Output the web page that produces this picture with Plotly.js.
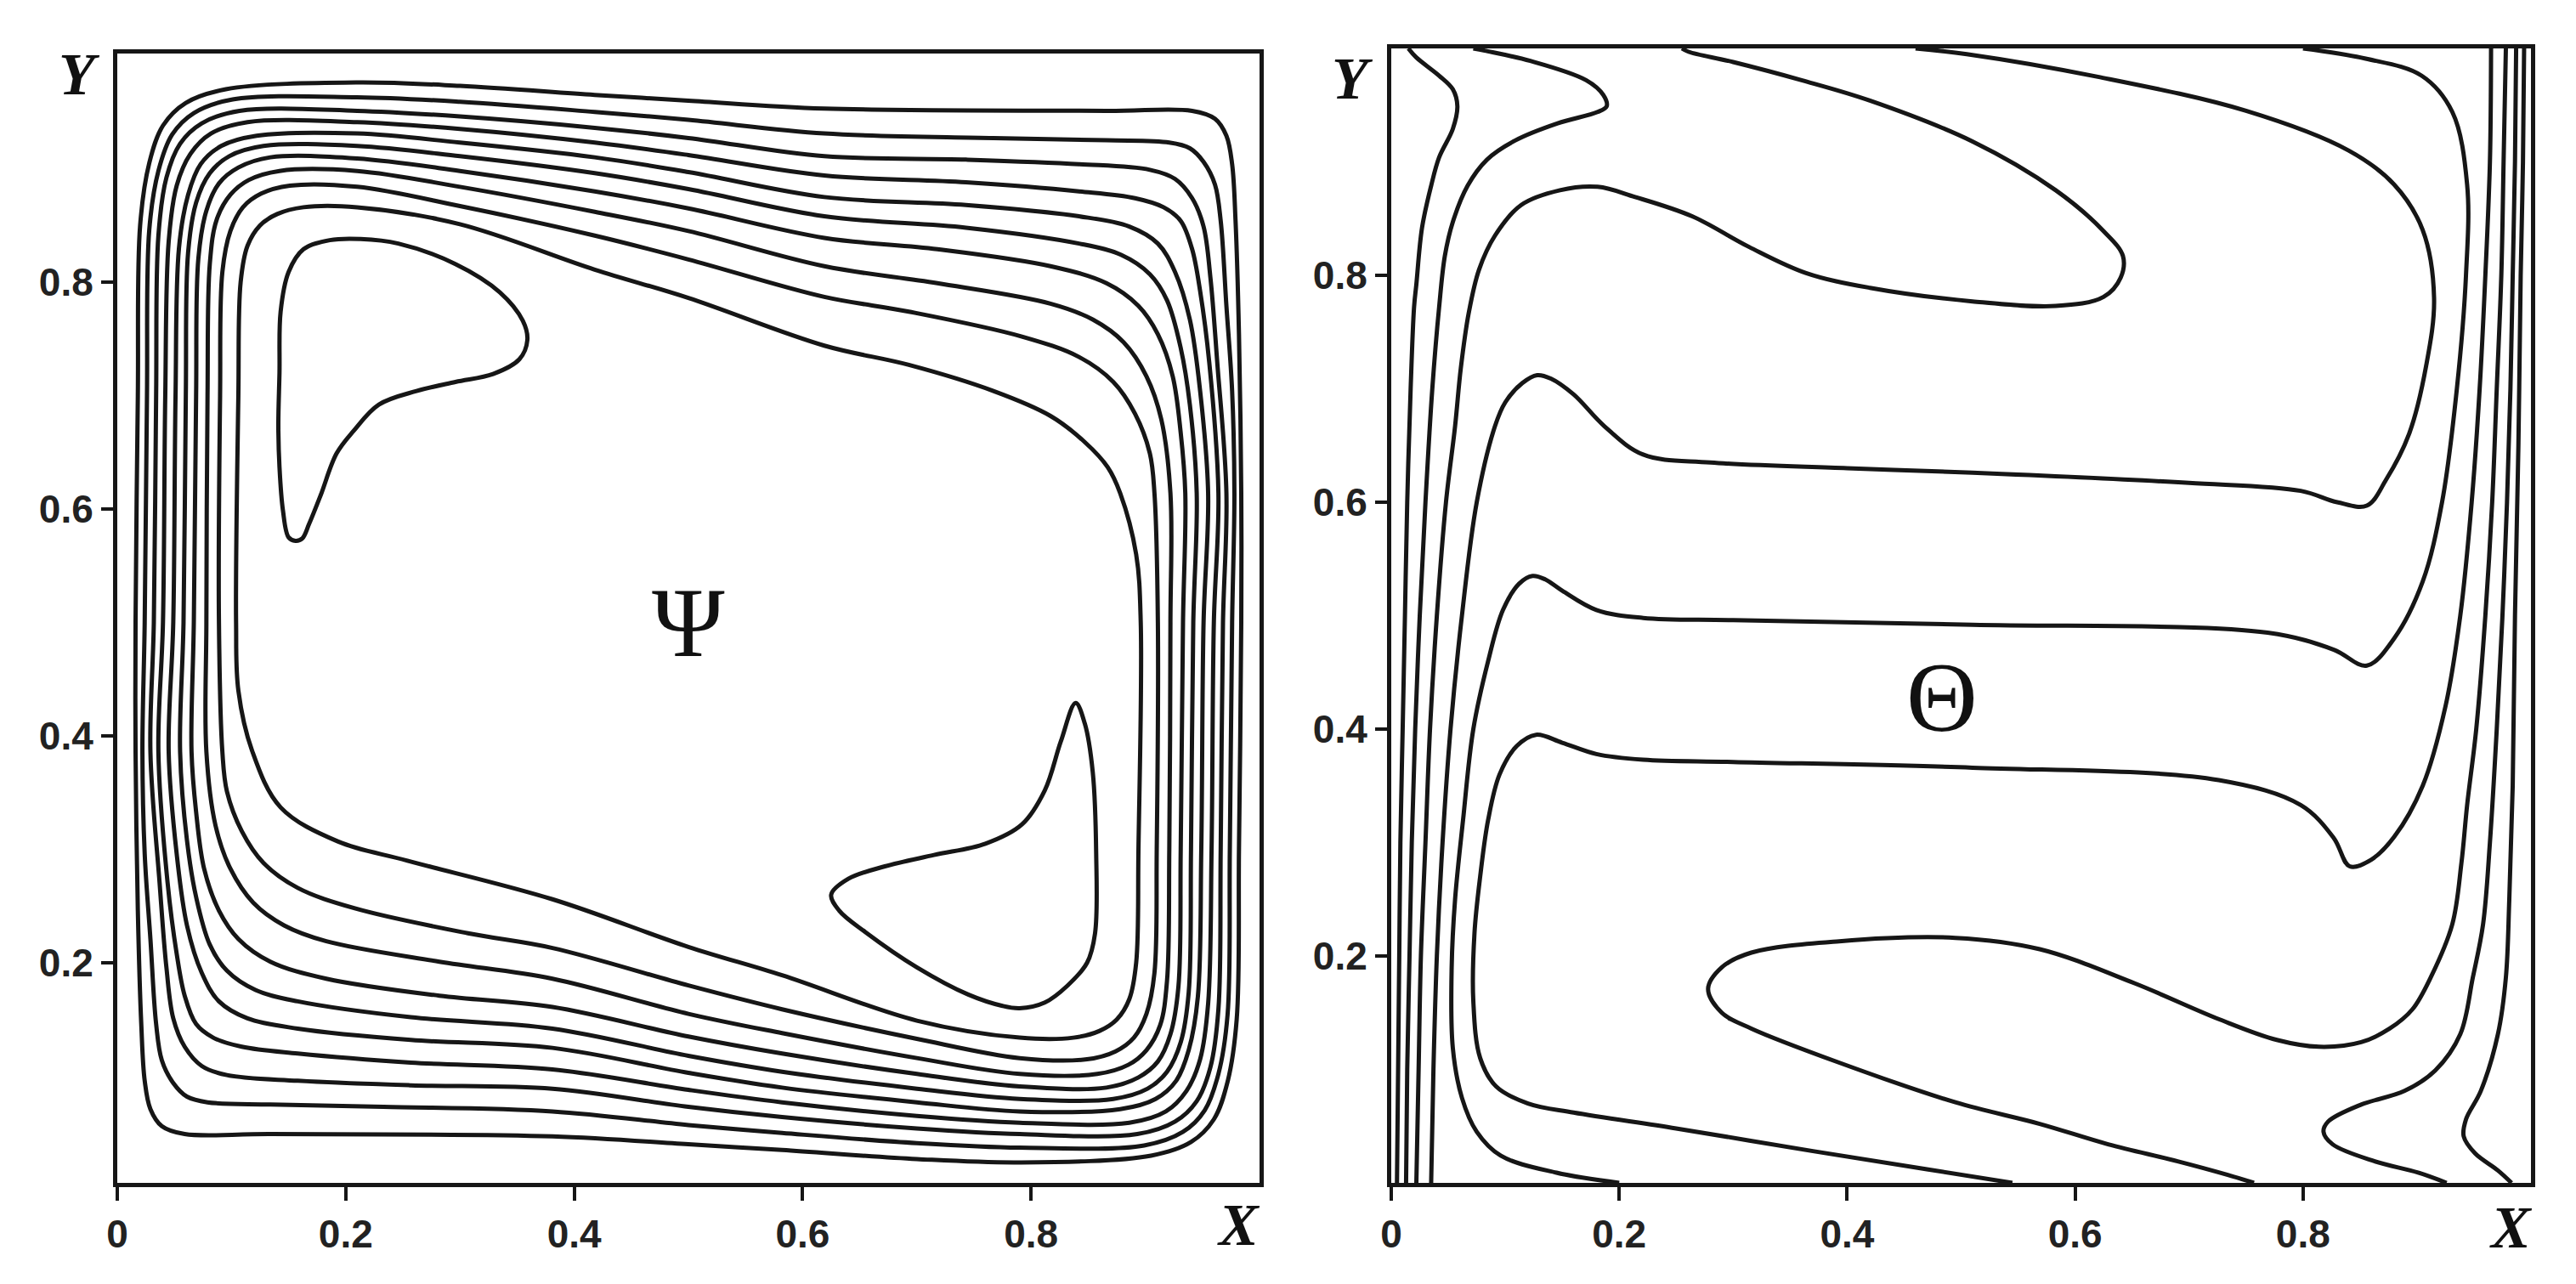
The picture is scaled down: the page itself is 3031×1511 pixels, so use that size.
<!DOCTYPE html>
<html>
<head>
<meta charset="utf-8">
<script src="https://cdn.plot.ly/plotly-3.0.1.min.js"></script>
<style>
html,body{margin:0;padding:0;background:#fff;}
#chart{width:3031px;height:1511px;}
</style>
</head>
<body>
<div id="chart"></div>
<script>
// ---------- Left panel: streamlines (Psi) ----------
const psiLoop1X = [0.016,0.018,0.020,0.028,0.040,0.060,0.095,0.21,0.30,0.418,0.50,0.619,0.866,0.941,0.961,0.971,0.976,0.979,0.982,0.984,0.984,0.982,0.980,0.972,0.960,0.940,0.905,0.79,0.70,0.582,0.50,0.381,0.134,0.059,0.039,0.029,0.024,0.021,0.018,0.016,0.016];
const psiLoop1Y = [0.50,0.70,0.850,0.905,0.938,0.958,0.970,0.976,0.973,0.965,0.960,0.953,0.951,0.951,0.944,0.929,0.904,0.854,0.754,0.614,0.50,0.30,0.15,0.095,0.062,0.042,0.030,0.024,0.027,0.035,0.040,0.047,0.049,0.049,0.056,0.071,0.096,0.146,0.246,0.386,0.50];

const psiLoop2X = [0.024,0.026,0.028,0.036,0.048,0.067,0.101,0.21,0.30,0.418,0.50,0.619,0.767,0.866,0.921,0.939,0.951,0.961,0.966,0.971,0.976,0.978,0.976,0.974,0.972,0.964,0.952,0.933,0.899,0.79,0.70,0.582,0.50,0.381,0.233,0.134,0.079,0.061,0.049,0.039,0.034,0.029,0.024,0.022,0.024];
const psiLoop2Y = [0.50,0.70,0.846,0.898,0.930,0.949,0.961,0.963,0.959,0.950,0.943,0.931,0.927,0.925,0.923,0.918,0.906,0.886,0.854,0.779,0.704,0.614,0.50,0.30,0.154,0.102,0.070,0.051,0.039,0.037,0.041,0.050,0.057,0.069,0.073,0.075,0.077,0.082,0.094,0.114,0.146,0.221,0.296,0.386,0.50];

const psiLoop3X = [0.032,0.034,0.036,0.043,0.055,0.074,0.107,0.21,0.30,0.418,0.50,0.619,0.743,0.842,0.904,0.926,0.941,0.951,0.957,0.963,0.971,0.968,0.966,0.964,0.957,0.945,0.926,0.893,0.79,0.70,0.582,0.50,0.381,0.257,0.158,0.096,0.074,0.059,0.049,0.043,0.037,0.029,0.032];
const psiLoop3Y = [0.50,0.70,0.841,0.892,0.922,0.940,0.951,0.951,0.946,0.936,0.927,0.911,0.908,0.904,0.899,0.891,0.874,0.849,0.804,0.729,0.614,0.50,0.30,0.159,0.108,0.078,0.060,0.049,0.049,0.054,0.064,0.073,0.089,0.092,0.096,0.101,0.109,0.126,0.151,0.196,0.271,0.386,0.50];

const psiLoop4X = [0.040,0.042,0.045,0.052,0.064,0.082,0.114,0.21,0.30,0.418,0.50,0.619,0.743,0.842,0.891,0.916,0.931,0.941,0.948,0.956,0.964,0.960,0.958,0.955,0.948,0.936,0.918,0.886,0.79,0.70,0.582,0.50,0.381,0.257,0.158,0.109,0.084,0.069,0.059,0.052,0.044,0.036,0.040];
const psiLoop4Y = [0.50,0.70,0.836,0.885,0.913,0.931,0.941,0.941,0.935,0.923,0.912,0.894,0.888,0.880,0.874,0.866,0.854,0.829,0.792,0.729,0.614,0.50,0.30,0.164,0.115,0.087,0.069,0.059,0.059,0.065,0.077,0.088,0.106,0.112,0.120,0.126,0.134,0.146,0.171,0.208,0.271,0.386,0.50];

const psiLoop5X = [0.049,0.051,0.054,0.062,0.073,0.091,0.122,0.21,0.30,0.418,0.50,0.619,0.743,0.842,0.886,0.911,0.926,0.939,0.948,0.955,0.951,0.949,0.946,0.938,0.927,0.909,0.878,0.79,0.70,0.582,0.50,0.381,0.257,0.158,0.114,0.089,0.074,0.061,0.052,0.045,0.049];
const psiLoop5Y = [0.50,0.70,0.830,0.877,0.904,0.920,0.929,0.931,0.923,0.910,0.897,0.875,0.868,0.858,0.849,0.834,0.809,0.767,0.704,0.614,0.50,0.30,0.170,0.123,0.096,0.080,0.071,0.069,0.077,0.090,0.103,0.125,0.132,0.142,0.151,0.166,0.191,0.233,0.296,0.386,0.50];

const psiLoop6X = [0.058,0.060,0.062,0.069,0.081,0.098,0.128,0.21,0.30,0.418,0.50,0.619,0.743,0.842,0.879,0.904,0.919,0.931,0.939,0.945,0.942,0.940,0.938,0.931,0.919,0.902,0.872,0.79,0.70,0.582,0.50,0.381,0.257,0.158,0.121,0.096,0.081,0.069,0.061,0.055,0.058];
const psiLoop6Y = [0.50,0.70,0.826,0.870,0.896,0.911,0.920,0.920,0.911,0.896,0.882,0.858,0.848,0.834,0.824,0.807,0.784,0.742,0.692,0.614,0.50,0.30,0.174,0.130,0.104,0.089,0.080,0.080,0.089,0.104,0.118,0.142,0.152,0.166,0.176,0.193,0.216,0.258,0.308,0.386,0.50];

const psiLoop7X = [0.067,0.069,0.071,0.078,0.089,0.106,0.134,0.21,0.30,0.418,0.50,0.619,0.718,0.817,0.866,0.894,0.911,0.924,0.931,0.935,0.933,0.931,0.929,0.922,0.911,0.894,0.866,0.79,0.70,0.582,0.50,0.381,0.282,0.183,0.134,0.106,0.089,0.076,0.069,0.065,0.067];
const psiLoop7Y = [0.50,0.70,0.821,0.863,0.887,0.901,0.910,0.909,0.898,0.880,0.865,0.839,0.829,0.814,0.799,0.779,0.754,0.717,0.667,0.614,0.50,0.30,0.179,0.137,0.113,0.099,0.090,0.091,0.102,0.120,0.135,0.161,0.171,0.186,0.201,0.221,0.246,0.283,0.333,0.386,0.50];

const psiLoop8X = [0.078,0.079,0.081,0.087,0.099,0.115,0.142,0.21,0.30,0.418,0.50,0.619,0.718,0.817,0.854,0.881,0.901,0.914,0.922,0.922,0.921,0.919,0.913,0.901,0.885,0.858,0.79,0.70,0.582,0.50,0.381,0.282,0.183,0.146,0.119,0.099,0.086,0.078,0.078];
const psiLoop8Y = [0.50,0.70,0.816,0.855,0.877,0.890,0.898,0.898,0.884,0.862,0.845,0.814,0.799,0.781,0.767,0.747,0.717,0.679,0.614,0.50,0.30,0.184,0.145,0.123,0.110,0.102,0.102,0.116,0.138,0.155,0.186,0.201,0.219,0.233,0.253,0.283,0.321,0.386,0.50];

const psiLoop9X = [0.089,0.090,0.092,0.099,0.110,0.126,0.151,0.21,0.30,0.418,0.50,0.619,0.693,0.792,0.842,0.872,0.891,0.904,0.908,0.911,0.910,0.908,0.901,0.890,0.874,0.849,0.79,0.70,0.582,0.50,0.381,0.307,0.208,0.158,0.128,0.109,0.096,0.092,0.089];
const psiLoop9Y = [0.50,0.70,0.809,0.845,0.866,0.878,0.885,0.884,0.867,0.841,0.820,0.787,0.774,0.752,0.734,0.712,0.684,0.649,0.614,0.50,0.30,0.191,0.155,0.134,0.122,0.115,0.116,0.133,0.159,0.180,0.213,0.226,0.248,0.266,0.288,0.316,0.351,0.386,0.50];

const psiLoop10X = [0.104,0.106,0.108,0.114,0.125,0.140,0.163,0.21,0.30,0.418,0.50,0.619,0.693,0.767,0.817,0.847,0.867,0.878,0.892,0.896,0.894,0.892,0.886,0.875,0.860,0.837,0.79,0.70,0.582,0.50,0.381,0.254,0.193,0.143,0.118,0.106,0.104];
const psiLoop10Y = [0.50,0.70,0.800,0.832,0.850,0.860,0.866,0.866,0.851,0.811,0.786,0.744,0.727,0.704,0.682,0.659,0.637,0.614,0.56,0.50,0.30,0.200,0.168,0.150,0.140,0.134,0.134,0.149,0.189,0.214,0.256,0.290,0.307,0.337,0.387,0.44,0.50];

const psiVortexTLX = [0.141,0.142,0.143,0.150,0.163,0.186,0.213,0.246,0.296,0.335,0.355,0.359,0.352,0.329,0.296,0.262,0.229,0.207,0.192,0.178,0.168,0.162,0.156,0.150,0.145,0.142,0.141];
const psiVortexTLY = [0.674,0.720,0.774,0.809,0.829,0.837,0.838,0.834,0.816,0.791,0.766,0.749,0.732,0.719,0.712,0.704,0.692,0.669,0.649,0.612,0.587,0.574,0.572,0.575,0.599,0.637,0.674];

const psiVortexBRX = [0.839,0.826,0.812,0.792,0.760,0.715,0.672,0.640,0.625,0.632,0.655,0.700,0.745,0.775,0.790,0.812,0.832,0.849,0.856,0.857,0.854,0.847,0.839];
const psiVortexBRY = [0.429,0.395,0.352,0.322,0.305,0.295,0.285,0.274,0.260,0.246,0.227,0.196,0.172,0.162,0.160,0.165,0.180,0.200,0.226,0.296,0.368,0.411,0.429];

// ---------- Right panel: isotherms (Theta) ----------
const thetaAX = [0.015,0.022,0.042,0.054,0.058,0.054,0.042,0.035,0.027,0.022,0.020,0.017,0.014,0.012,0.010,0.008,0.007,0.006,0.005];
const thetaAY = [1.0,0.992,0.976,0.964,0.949,0.929,0.904,0.879,0.842,0.792,0.772,0.70,0.60,0.50,0.40,0.30,0.20,0.10,0.0];

const thetaBX = [0.072,0.082,0.122,0.171,0.186,0.189,0.181,0.146,0.109,0.084,0.067,0.054,0.047,0.042,0.036,0.030,0.025,0.021,0.018,0.016,0.014,0.013];
const thetaBY = [1.0,0.998,0.989,0.972,0.959,0.949,0.944,0.934,0.919,0.902,0.879,0.847,0.817,0.772,0.70,0.60,0.50,0.40,0.30,0.20,0.10,0.0];

const thetaCX = [0.255,0.261,0.30,0.36,0.42,0.51,0.583,0.625,0.642,0.640,0.625,0.583,0.51,0.42,0.364,0.314,0.264,0.214,0.181,0.148,0.114,0.091,0.077,0.068,0.061,0.056,0.048,0.040,0.034,0.030,0.026,0.024,0.022];
const thetaCY = [1.0,0.997,0.988,0.972,0.954,0.918,0.875,0.839,0.817,0.798,0.781,0.773,0.777,0.789,0.802,0.825,0.852,0.869,0.878,0.875,0.862,0.835,0.805,0.767,0.718,0.667,0.60,0.50,0.40,0.30,0.20,0.10,0.0];

const thetaDX = [0.46,0.505,0.62,0.75,0.84,0.88,0.905,0.915,0.908,0.893,0.873,0.856,0.83,0.798,0.70,0.51,0.40,0.28,0.221,0.187,0.16,0.14,0.128,0.115,0.10,0.091,0.075,0.062,0.052,0.045,0.040,0.037,0.035];
const thetaDY = [1.0,0.995,0.975,0.945,0.91,0.88,0.84,0.78,0.72,0.66,0.62,0.597,0.600,0.610,0.617,0.626,0.630,0.635,0.642,0.667,0.695,0.709,0.712,0.705,0.688,0.667,0.60,0.50,0.40,0.30,0.20,0.10,0.0];

const thetaEX = [0.80,0.855,0.904,0.931,0.944,0.943,0.935,0.922,0.905,0.88,0.856,0.827,0.769,0.51,0.30,0.221,0.18,0.15,0.135,0.124,0.112,0.098,0.085,0.072,0.063,0.056,0.053,0.054,0.062,0.075,0.096,0.145,0.20];
const thetaEY = [1.0,0.991,0.976,0.944,0.88,0.80,0.70,0.60,0.53,0.48,0.456,0.470,0.485,0.492,0.496,0.498,0.505,0.522,0.532,0.535,0.528,0.505,0.46,0.40,0.32,0.25,0.19,0.119,0.075,0.045,0.024,0.009,0.0];

const thetaFX = [0.965,0.964,0.960,0.955,0.948,0.938,0.925,0.905,0.88,0.86,0.841,0.827,0.798,0.726,0.51,0.30,0.221,0.18,0.15,0.127,0.11,0.095,0.085,0.078,0.073,0.072,0.078,0.092,0.12,0.16,0.25,0.37,0.47,0.545];
const thetaFY = [1.0,0.9,0.8,0.7,0.6,0.5,0.42,0.35,0.305,0.285,0.279,0.304,0.333,0.355,0.366,0.371,0.373,0.378,0.388,0.395,0.385,0.36,0.32,0.27,0.22,0.16,0.11,0.085,0.07,0.062,0.048,0.028,0.012,0.0];

const thetaGX = [0.978,0.976,0.974,0.970,0.966,0.960,0.952,0.944,0.939,0.931,0.912,0.896,0.876,0.851,0.814,0.777,0.727,0.652,0.569,0.495,0.393,0.316,0.290,0.278,0.290,0.316,0.393,0.495,0.569,0.629,0.690,0.734,0.757];
const thetaGY = [1.0,0.9,0.8,0.7,0.6,0.5,0.4,0.333,0.282,0.228,0.181,0.153,0.136,0.124,0.120,0.126,0.144,0.176,0.206,0.216,0.213,0.203,0.190,0.171,0.150,0.136,0.106,0.071,0.052,0.034,0.019,0.007,0.0];

const thetaHX = [0.987,0.986,0.984,0.982,0.979,0.975,0.970,0.964,0.958,0.949,0.938,0.916,0.889,0.851,0.822,0.818,0.826,0.863,0.901,0.926];
const thetaHY = [1.0,0.9,0.8,0.7,0.6,0.5,0.4,0.3,0.228,0.181,0.131,0.099,0.081,0.069,0.054,0.045,0.034,0.019,0.009,0.0];

const thetaIX = [0.994,0.993,0.991,0.989,0.986,0.984,0.981,0.978,0.971,0.956,0.943,0.941,0.951,0.971,0.983];
const thetaIY = [1.0,0.9,0.8,0.65,0.5,0.35,0.25,0.181,0.131,0.081,0.056,0.041,0.026,0.011,0.0];

// ---------- Ticks and labels ----------
const xTickVals = [0, 0.2, 0.4, 0.6, 0.8];
const xTickText = ['0', '0.2', '0.4', '0.6', '0.8'];
const yTickVals = [0.2, 0.4, 0.6, 0.8];
const yTickText = ['0.2', '0.4', '0.6', '0.8'];
const panelSymbols = ['\u03A8', '\u0398'];
const axisNames = ['X', 'Y'];

const lineColor = '#161616';
const psiSeries = [
  [psiLoop1X, psiLoop1Y],[psiLoop2X, psiLoop2Y],[psiLoop3X, psiLoop3Y],[psiLoop4X, psiLoop4Y],
  [psiLoop5X, psiLoop5Y],[psiLoop6X, psiLoop6Y],[psiLoop7X, psiLoop7Y],[psiLoop8X, psiLoop8Y],
  [psiLoop9X, psiLoop9Y],[psiLoop10X, psiLoop10Y],[psiVortexTLX, psiVortexTLY],[psiVortexBRX, psiVortexBRY]
];
const thetaSeries = [
  [thetaAX, thetaAY],[thetaBX, thetaBY],[thetaCX, thetaCY],[thetaDX, thetaDY],[thetaEX, thetaEY],
  [thetaFX, thetaFY],[thetaGX, thetaGY],[thetaHX, thetaHY],[thetaIX, thetaIY]
];

const traces = [];
psiSeries.forEach(s => traces.push({
  type:'scatter', mode:'lines', x:s[0], y:s[1], xaxis:'x', yaxis:'y',
  line:{color:lineColor, width:5, shape:'spline', smoothing:1}, hoverinfo:'skip'
}));
thetaSeries.forEach(s => traces.push({
  type:'scatter', mode:'lines', x:s[0], y:s[1], xaxis:'x2', yaxis:'y2',
  line:{color:lineColor, width:5, shape:'spline', smoothing:1}, hoverinfo:'skip'
}));

const tickFont = {family:'Liberation Sans, Arial, sans-serif', size:46, color:'#222', weight:'bold'};
function xAx(domain, anchor){
  return {domain:domain, range:[0,1], anchor:anchor, showgrid:false, zeroline:false,
    showline:true, mirror:true, linewidth:5, linecolor:'#161616',
    ticks:'outside', ticklen:16, tickwidth:4, tickcolor:'#161616',
    tickmode:'array', tickvals:xTickVals, ticktext:xTickText, tickfont:tickFont, fixedrange:true};
}
function yAx(domain, anchor, range){
  return {domain:domain, range:range, anchor:anchor, showgrid:false, zeroline:false,
    showline:true, mirror:true, linewidth:5, linecolor:'#161616',
    ticks:'outside', ticklen:14, tickwidth:4, tickcolor:'#161616',
    tickmode:'array', tickvals:yTickVals, ticktext:yTickText, tickfont:tickFont, fixedrange:true};
}

const serifTitle = {family:'Liberation Serif, Times New Roman, serif', size:70, color:'#111'};
const symFont = {family:'Liberation Serif, Times New Roman, serif', size:116, color:'#111'};

const layout = {
  width:3031, height:1511, margin:{l:0,r:0,t:0,b:0},
  paper_bgcolor:'#fff', plot_bgcolor:'#fff', showlegend:false,
  xaxis: xAx([0.04553,0.48895],'y'),
  yaxis: yAx([0.07876,0.95831],'x',[0.006,1.0015]),
  xaxis2: xAx([0.54009,0.98251],'y2'),
  yaxis2: yAx([0.07876,0.96228],'x2',[0,1]),
  annotations:[
    {xref:'paper', yref:'paper', x:0.0310, y:0.9418, text:'<b><i>'+axisNames[1]+'</i></b>', showarrow:false, font:serifTitle, xanchor:'center', yanchor:'middle'},
    {xref:'paper', yref:'paper', x:0.5252, y:0.9391, text:'<b><i>'+axisNames[1]+'</i></b>', showarrow:false, font:serifTitle, xanchor:'center', yanchor:'middle'},
    {xref:'paper', yref:'paper', x:0.4810, y:0.0457, text:'<b><i>'+axisNames[0]+'</i></b>', showarrow:false, font:serifTitle, xanchor:'center', yanchor:'middle'},
    {xref:'paper', yref:'paper', x:0.9746, y:0.0437, text:'<b><i>'+axisNames[0]+'</i></b>', showarrow:false, font:serifTitle, xanchor:'center', yanchor:'middle'},
    {xref:'x', yref:'y', x:0.50, y:0.50, text:panelSymbols[0], showarrow:false, font:symFont, xanchor:'center', yanchor:'middle'},
    {xref:'x2', yref:'y2', x:0.483, y:0.428, text:panelSymbols[1], showarrow:false, font:symFont, xanchor:'center', yanchor:'middle'}
  ]
};

Plotly.newPlot('chart', traces, layout, {staticPlot:true, displayModeBar:false});
</script>
</body>
</html>
